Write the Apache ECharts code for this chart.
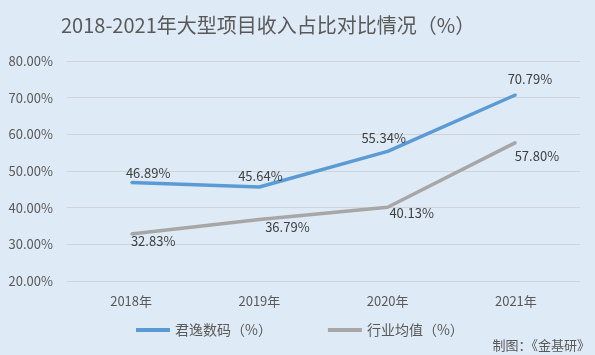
<!DOCTYPE html>
<html><head><meta charset="utf-8">
<script src="https://cdn.jsdelivr.net/npm/echarts@6/dist/echarts.min.js"></script>
<style>html,body{margin:0;padding:0;background:#DEEAF6;}#c{width:595px;height:355px;}</style>
</head><body><div id="c"></div>
<script>
const categories = ['2018年','2019年','2020年','2021年'];
const junyi = [46.89, 45.64, 55.34, 70.79];
const industry = [32.83, 36.79, 40.13, 57.80];
const seriesNames = ['君逸数码（%）','行业均值（%）'];
// label placement (pixel offsets from each point), styling only
const junyiLabelOffsets = [[17,-9],[1,-11],[-4,-13],[14,-16]];
const industryLabelOffsets = [[22,7],[28,8],[24,6],[21,14]];

const chart = echarts.init(document.getElementById('c'));
const font = '"Microsoft YaHei","Noto Sans CJK SC","Noto Sans",sans-serif';
const fmt = p => Number(p.value).toFixed(2) + '%';
function withLabels(values, offsets) {
  return values.map((v, i) => ({value: v, label: {offset: offsets[i]}}));
}
chart.setOption({
  backgroundColor: '#DEEAF6',
  animation: false,
  textStyle: {fontFamily: font},
  title: [{
    text: '2018-2021年大型项目收入占比对比情况（%）',
    left: 56, top: 10,
    textStyle: {fontSize: 20, fontWeight: 'normal', color: '#595959', fontFamily: font}
  },{
    text: '制图：《金基研》', right: 0, top: 334,
    textStyle: {fontSize: 13, fontWeight: 'normal', color: '#595959', fontFamily: font}
  }],
  legend: {
    top: 318, left: 131, itemGap: 56,
    icon: 'rect', itemWidth: 34, itemHeight: 4,
    textStyle: {fontSize: 14, color: '#595959', fontFamily: font},
    data: seriesNames
  },
  grid: {left: 67, right: 15, top: 61, bottom: 74},
  xAxis: {
    type: 'category', data: categories, boundaryGap: true,
    axisLine: {show: true, lineStyle: {color: '#D0D4D8'}},
    axisTick: {show: false},
    axisLabel: {fontSize: 13, color: '#595959', margin: 14}
  },
  yAxis: {
    type: 'value', min: 20, max: 80, interval: 10,
    axisLine: {show: false}, axisTick: {show: false},
    axisLabel: {fontSize: 13, color: '#595959', formatter: v => v.toFixed(2) + '%', margin: 14},
    splitLine: {lineStyle: {color: '#D0D4D8'}}
  },
  series: [{
    name: seriesNames[0], type: 'line', data: withLabels(junyi, junyiLabelOffsets),
    symbol: 'circle', symbolSize: 2, showSymbol: true,
    lineStyle: {width: 3.5, color: '#5B9BD5'}, itemStyle: {color: '#5B9BD5', borderWidth: 0},
    label: {show: true, position: 'inside', fontSize: 13, color: '#404040', formatter: fmt}
  },{
    name: seriesNames[1], type: 'line', data: withLabels(industry, industryLabelOffsets),
    symbol: 'circle', symbolSize: 2, showSymbol: true,
    lineStyle: {width: 3.5, color: '#A8A6A6'}, itemStyle: {color: '#A8A6A6', borderWidth: 0},
    label: {show: true, position: 'inside', fontSize: 13, color: '#404040', formatter: fmt}
  }]
});
</script></body></html>
